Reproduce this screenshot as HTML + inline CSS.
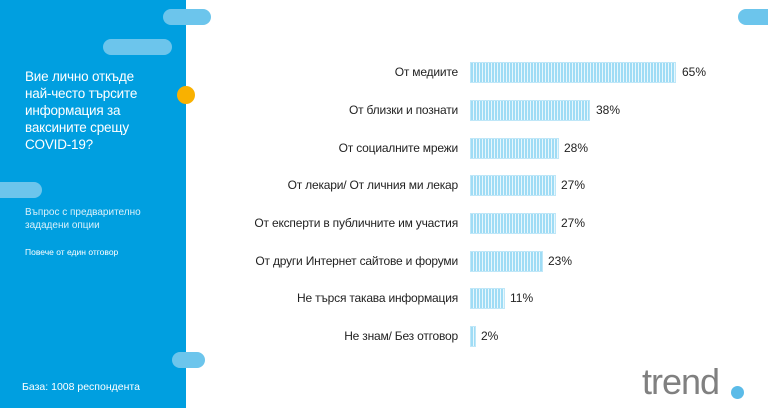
<!DOCTYPE html>
<html><head><meta charset="utf-8"><style>
body{margin:0;width:768px;height:408px;overflow:hidden;background:#fff;font-family:"Liberation Sans",sans-serif;position:relative}
.a{position:absolute}
.panel{left:0;top:0;width:186px;height:408px;background:#009fe0}
.pill{position:absolute;background:#6cc5ec;border-radius:9px;height:16px}
.lab{position:absolute;right:310px;font-size:12px;color:#222;white-space:nowrap;letter-spacing:-0.2px}
.bar{position:absolute;left:470px;height:21px;background:repeating-linear-gradient(90deg,#9fdcf5 0 2px,#e8f7fd 2px 3px);border:1px solid #bfe7f8;box-sizing:border-box}
.val{position:absolute;font-size:12px;color:#222}
.w{color:#fff}
</style></head><body>
<div class="a panel"></div>
<div class="pill" style="left:163px;top:9px;width:48px"></div>
<div class="pill" style="left:738px;top:9px;width:40px"></div>
<div class="pill" style="left:103px;top:39px;width:69px"></div>
<div class="pill" style="left:-10px;top:182px;width:52px"></div>
<div class="pill" style="left:172px;top:352px;width:33px"></div>
<div class="a" style="left:177px;top:86px;width:18px;height:18px;border-radius:50%;background:#f9b100"></div>
<div class="a w" style="left:25px;top:68px;font-size:13.5px;line-height:17px;letter-spacing:-0.2px">Вие лично откъде<br>най-често търсите<br>информация за<br>ваксините срещу<br>COVID-19?</div>
<div class="a w" style="left:25px;top:206px;font-size:10px;line-height:13px;opacity:.85">Въпрос с предварително<br>зададени опции</div>
<div class="a w" style="left:25px;top:247px;font-size:8.5px">Повече от един отговор</div>
<div class="a w" style="left:22px;top:381px;font-size:10.5px">База: 1008 респондента</div>
<div class="lab" style="top:65px">От медиите</div>
<div class="bar" style="top:62px;width:206px"></div><div class="val" style="left:682px;top:65px">65%</div>
<div class="lab" style="top:103px">От близки и познати</div>
<div class="bar" style="top:100px;width:120px"></div><div class="val" style="left:596px;top:103px">38%</div>
<div class="lab" style="top:141px">От социалните мрежи</div>
<div class="bar" style="top:138px;width:89px"></div><div class="val" style="left:564px;top:141px">28%</div>
<div class="lab" style="top:178px">От лекари/ От личния ми лекар</div>
<div class="bar" style="top:175px;width:86px"></div><div class="val" style="left:561px;top:178px">27%</div>
<div class="lab" style="top:216px">От експерти в публичните им участия</div>
<div class="bar" style="top:213px;width:86px"></div><div class="val" style="left:561px;top:216px">27%</div>
<div class="lab" style="top:254px">От други Интернет сайтове и форуми</div>
<div class="bar" style="top:251px;width:73px"></div><div class="val" style="left:548px;top:254px">23%</div>
<div class="lab" style="top:291px">Не търся такава информация</div>
<div class="bar" style="top:288px;width:35px"></div><div class="val" style="left:510px;top:291px">11%</div>
<div class="lab" style="top:329px">Не знам/ Без отговор</div>
<div class="bar" style="top:326px;width:6px"></div><div class="val" style="left:481px;top:329px">2%</div>
<div class="a" style="left:642px;top:362px;font-size:36px;color:#808080;letter-spacing:-1px;line-height:40px">trend</div>
<div class="a" style="left:731px;top:386px;width:13px;height:13px;border-radius:50%;background:#5bbbe8"></div>
</body></html>
